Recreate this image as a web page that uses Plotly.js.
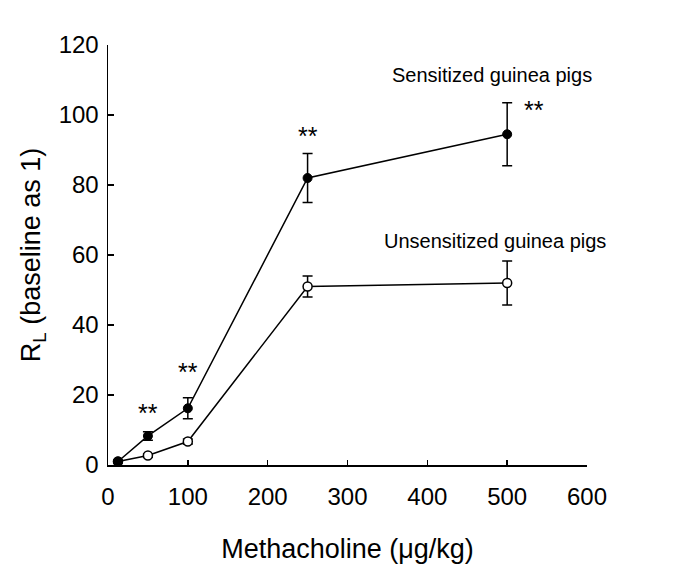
<!DOCTYPE html>
<html>
<head>
<meta charset="utf-8">
<script src="https://cdn.plot.ly/plotly-3.0.1.min.js"></script>
<style>html,body{margin:0;padding:0;background:#fff;}</style>
</head>
<body>
<div id="chart" style="width:685px;height:580px;"></div>
<script>
const doses = [12.5, 50, 100, 250, 500];
const sensMean = [1, 8.3, 16.2, 82, 94.5];
const sensErr = [0.3, 1.2, 3, 7, 9];
const unsMean = [1, 2.7, 6.7, 51, 52];
const unsErr = [0.3, 0.5, 0.7, 3, 6.3];
const starX = [50, 100, 250, 534];
const starY = [15, 26.5, 94, 101.5];
const labelText = ["Sensitized guinea pigs", "Unsensitized guinea pigs"];
const labelX = [481, 485];
const labelY = [111.5, 64];
const xTicks = [0, 100, 200, 300, 400, 500, 600];
const yTicks = [0, 20, 40, 60, 80, 100, 120];

const FONT = "Liberation Sans, Arial, sans-serif";

const traces = [
  {
    x: doses, y: unsMean, type: 'scatter', mode: 'lines+markers',
    line: {color: '#000', width: 1.5},
    marker: {symbol: 'circle', size: 9, color: '#fff', line: {color: '#000', width: 1.5}},
    error_y: {type: 'data', array: unsErr, visible: true, color: '#000', thickness: 1.5, width: 5},
    showlegend: false, cliponaxis: false
  },
  {
    x: doses, y: sensMean, type: 'scatter', mode: 'lines+markers',
    line: {color: '#000', width: 1.5},
    marker: {symbol: 'circle', size: 9, color: '#000', line: {color: '#000', width: 1}},
    error_y: {type: 'data', array: sensErr, visible: true, color: '#000', thickness: 1.5, width: 5},
    showlegend: false, cliponaxis: false
  }
];

const annotations = [];
starX.forEach((x, i) => annotations.push({
  x: x, y: starY[i], xref: 'x', yref: 'y', text: '**', showarrow: false,
  font: {family: FONT, size: 25, color: '#000'}
}));
labelText.forEach((t, i) => annotations.push({
  x: labelX[i], y: labelY[i], xref: 'x', yref: 'y', text: t, showarrow: false,
  font: {family: FONT, size: 20, color: '#000'}
}));

const layout = {
  width: 685, height: 580,
  margin: {l: 108, r: 98, t: 45, b: 115},
  paper_bgcolor: '#fff', plot_bgcolor: '#fff',
  font: {family: FONT, color: '#000'},
  xaxis: {
    range: [0, 600], tickvals: xTicks, ticktext: xTicks.map(String),
    showgrid: false, zeroline: false, showline: true, linecolor: '#000', linewidth: 1.5,
    ticks: 'inside', ticklen: 5, tickwidth: 1.5, tickcolor: '#000',
    ticklabelstandoff: 10,
    tickfont: {family: FONT, size: 24, color: '#000'},
    title: {text: 'Methacholine (μg/kg)', font: {family: FONT, size: 27, color: '#000'}, standoff: 30}
  },
  yaxis: {
    range: [0, 120], tickvals: yTicks, ticktext: yTicks.map(String),
    showgrid: false, zeroline: false, showline: true, linecolor: '#000', linewidth: 1.5,
    ticks: 'inside', ticklen: 6, tickwidth: 1.5, tickcolor: '#000',
    ticklabelstandoff: 3,
    tickfont: {family: FONT, size: 24, color: '#000'},
    title: {text: 'R<sub>L</sub> (baseline as 1)', font: {family: FONT, size: 27, color: '#000'}, standoff: 10}
  },
  annotations: annotations
};

Plotly.newPlot('chart', traces, layout, {staticPlot: true, displayModeBar: false});
</script>
</body>
</html>
